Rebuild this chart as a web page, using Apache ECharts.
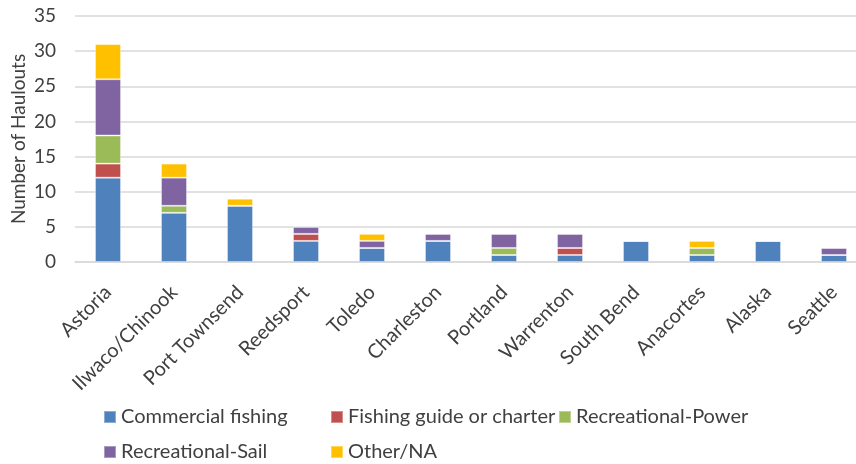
<!DOCTYPE html>
<html>
<head>
<meta charset="utf-8">
<script src="https://cdn.jsdelivr.net/npm/echarts@6/dist/echarts.min.js"></script>
<style>
html,body{margin:0;padding:0;background:#fff;}
#chart{width:856px;height:464px;}
</style>
</head>
<body>
<div id="chart"></div>
<script>
var categories = ['Astoria','Ilwaco/Chinook','Port Townsend','Reedsport','Toledo','Charleston','Portland','Warrenton','South Bend','Anacortes','Alaska','Seattle'];
var commercialFishing = [12, 7, 8, 3, 2, 3, 1, 1, 3, 1, 3, 1];
var fishingGuide      = [2, 0, 0, 1, 0, 0, 0, 1, 0, 0, 0, 0];
var recPower          = [4, 1, 0, 0, 0, 0, 1, 0, 0, 1, 0, 0];
var recSail           = [8, 4, 0, 1, 1, 1, 2, 2, 0, 0, 0, 1];
var otherNA           = [5, 2, 1, 0, 1, 0, 0, 0, 0, 1, 0, 0];
var yTicks = [0, 5, 10, 15, 20, 25, 30, 35];

var FONT = 'Lato';
var TXT = '#404040';
var names = ['Commercial fishing','Fishing guide or charter','Recreational-Power','Recreational-Sail','Other/NA'];
var colors = ['#4F81BD','#C0504D','#9BBB59','#8064A2','#FFC000'];
var dataSets = [commercialFishing, fishingGuide, recPower, recSail, otherNA];

function mkLegend(left, top, name){
  return {
    left: left, top: top, orient: 'horizontal', padding: 0,
    itemWidth: 12, itemHeight: 12, itemGap: 0,
    icon: 'rect', data: [name],
    textStyle: {fontFamily: FONT, fontSize: 20, lineHeight: 20, color: TXT},
    selectedMode: false
  };
}

var chart = echarts.init(document.getElementById('chart'));
chart.setOption({
  animation: false,
  color: colors,
  grid: {left: 75, top: 16, width: 792, height: 246, containLabel: false, outerBoundsMode: 'none'},
  legend: [
    mkLegend(103, 407, names[0]),
    mkLegend(330, 407, names[1]),
    mkLegend(558, 407, names[2]),
    mkLegend(103, 442, names[3]),
    mkLegend(330, 442, names[4])
  ],
  xAxis: {
    type: 'category', data: categories,
    axisLine: {lineStyle: {color: '#d9d9d9', width: 1.5}},
    axisTick: {show: false},
    axisLabel: {rotate: 45, interval: 0, margin: 27, fontFamily: FONT, fontSize: 20, color: TXT}
  },
  yAxis: {
    type: 'value', min: yTicks[0], max: yTicks[yTicks.length-1], interval: 5,
    name: 'Number of Haulouts', nameLocation: 'middle', nameGap: 47, nameMoveOverlap: false,
    nameTextStyle: {fontFamily: FONT, fontSize: 19, color: TXT},
    axisLine: {show: false}, axisTick: {show: false},
    axisLabel: {margin: 19, fontFamily: FONT, fontSize: 19, color: TXT},
    splitLine: {lineStyle: {color: '#d9d9d9', width: 1.5}}
  },
  series: dataSets.map(function(d, i){
    return {
      name: names[i], type: 'bar', stack: 'total', data: d,
      barWidth: 26,
      itemStyle: {color: colors[i], borderColor: 'rgba(255,255,255,0.35)', borderWidth: 1}
    };
  })
});
</script>
</body>
</html>
